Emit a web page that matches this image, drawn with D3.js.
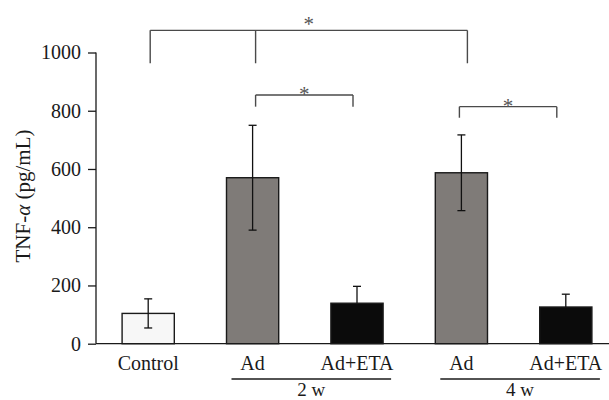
<!DOCTYPE html>
<html><head><meta charset="utf-8">
<script src="https://cdn.jsdelivr.net/npm/d3@7"></script>
<style>
html,body{margin:0;padding:0;background:#fff;}
svg{display:block;}
svg text{font-family:"Liberation Serif","Times New Roman",serif;}
</style></head>
<body><svg id="c" width="609" height="400"></svg>
<script>
// data
const categories = ["Control","Ad 2w","Ad+ETA 2w","Ad 4w","Ad+ETA 4w"];
const catLabels = ["Control","Ad","Ad+ETA","Ad","Ad+ETA"];
const means = [104, 570, 139, 587, 126];
const errors = [50, 180, 58, 130, 44];
const fills = ["#f7f7f7","#7f7b78","#0b0b0b","#7f7b78","#0b0b0b"];
const yTicks = [0,200,400,600,800,1000];
const groupLabels = ["2 w","4 w"];
const groupFrom = [1,3];
const groupTo = [2,4];
// significance brackets: categories joined, bar level, leg bottom
const sigLegs = [[0,1,3],[1,2],[3,4]];
const sigLevel = [1076, 854, 814];
const sigLegEnd = [963, 814, 776];

const svg = d3.select("#c");
const x = d3.scaleBand().domain(categories).range([96,618]).paddingInner(0.5).paddingOuter(0.25);
const y = d3.scaleLinear().domain([0,1000]).range([343.7,52.5]);
const cx = c => x(categories[c]) + x.bandwidth()/2;

// y axis
const yAxis = d3.axisLeft(y).tickValues(yTicks).tickSize(8).tickPadding(7).tickFormat(d3.format("d"));
const gy = svg.append("g").attr("transform","translate(96,0)").call(yAxis);
gy.attr("font-family",null).attr("font-size",null);
gy.select(".domain").attr("d","M0,"+y(1000)+"V"+y(0)).attr("stroke","#1a1a1a").attr("stroke-width",1.3);
gy.selectAll(".tick line").attr("stroke","#1a1a1a").attr("stroke-width",1.3);
gy.selectAll(".tick text").style("font-size","20px").attr("fill","#1a1a1a");

// bars
svg.append("g").selectAll("rect").data(categories).join("rect")
  .attr("x",d=>x(d)).attr("width",x.bandwidth())
  .attr("y",(d,i)=>y(means[i])).attr("height",(d,i)=>y(0)-y(means[i]))
  .attr("fill",(d,i)=>fills[i]).attr("stroke","#1a1a1a").attr("stroke-width",1.4);

// error bars (lower part hidden inside the black bars)
const eg = svg.append("g").attr("stroke","#111").attr("stroke-width",1.3);
categories.forEach((c,i)=>{
  const xc = cx(i);
  const dark = fills[i] === "#0b0b0b";
  const lo = dark ? means[i] : means[i]-errors[i];
  eg.append("line").attr("x1",xc).attr("x2",xc).attr("y1",y(lo)).attr("y2",y(means[i]+errors[i]));
  eg.append("line").attr("x1",xc-4).attr("x2",xc+4).attr("y1",y(means[i]+errors[i])).attr("y2",y(means[i]+errors[i]));
  if(!dark) eg.append("line").attr("x1",xc-4).attr("x2",xc+4).attr("y1",y(lo)).attr("y2",y(lo));
});

// x axis line
svg.append("line").attr("x1",96).attr("x2",609).attr("y1",y(0)).attr("y2",y(0)).attr("stroke","#1a1a1a").attr("stroke-width",1.3);

// category labels
svg.append("g").selectAll("text").data(catLabels).join("text")
  .attr("x",(d,i)=>cx(i)).attr("y",369.5).attr("text-anchor","middle")
  .attr("font-size",20).attr("fill","#1a1a1a").text(d=>d);

// group lines and labels
groupLabels.forEach((g,k)=>{
  const x1 = x(categories[groupFrom[k]]) + 5;
  const x2 = x(categories[groupTo[k]]) + x.bandwidth() + 8;
  svg.append("line").attr("x1",x1).attr("x2",x2).attr("y1",379).attr("y2",379).attr("stroke","#1a1a1a").attr("stroke-width",1.3);
  svg.append("text").attr("x",(x1+x2)/2).attr("y",396).attr("text-anchor","middle")
    .attr("font-size",19).attr("fill","#1a1a1a").text(g);
});

// significance brackets
const starGap = [11, 6, 6];
const legOffset = [[2,3,6],[3,-4],[-2,-9]];
const bg = svg.append("g").attr("stroke","#4a4a4a").attr("stroke-width",1.4).attr("fill","none");
sigLegs.forEach((legs,k)=>{
  const xs = legs.map((c,j)=>cx(c)+legOffset[k][j]);
  const yl = y(sigLevel[k]), ye = y(sigLegEnd[k]);
  bg.append("line").attr("x1",xs[0]).attr("x2",xs[xs.length-1]).attr("y1",yl).attr("y2",yl);
  xs.forEach(xx=>bg.append("line").attr("x1",xx).attr("x2",xx).attr("y1",yl).attr("y2",ye));
  svg.append("text").attr("x",(xs[0]+xs[xs.length-1])/2).attr("y",yl-starGap[k]+12)
    .attr("text-anchor","middle").attr("font-size",21).attr("fill","#555").text("*");
});

// y label
svg.append("text").attr("transform","translate(29.5,196) rotate(-90)").attr("text-anchor","middle")
  .attr("font-size",21).attr("fill","#1a1a1a")
  .call(t=>{ t.append("tspan").text("TNF-"); t.append("tspan").attr("font-style","italic").text("α");
             t.append("tspan").text(" (pg/mL)"); });
</script></body></html>
